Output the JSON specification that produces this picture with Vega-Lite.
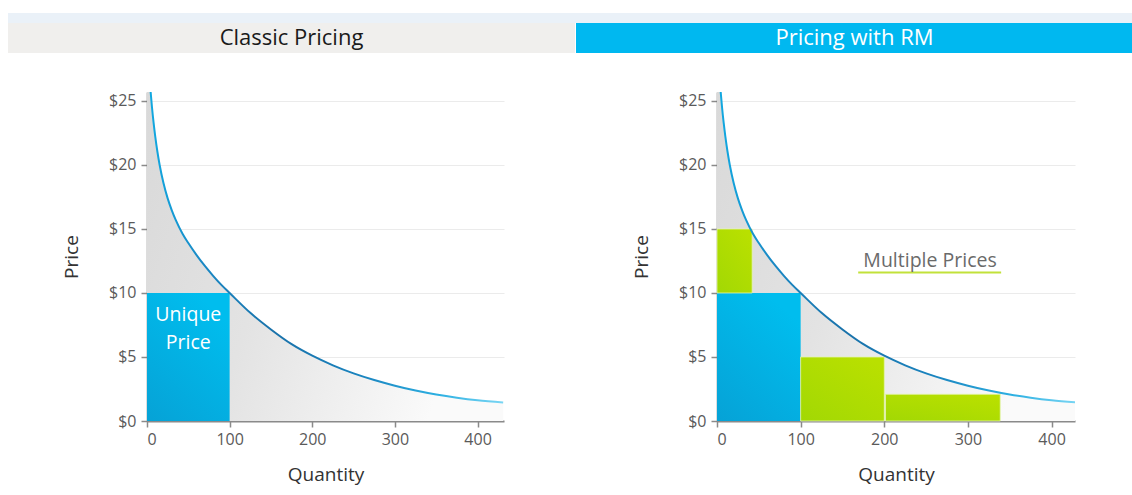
{
  "$schema": "https://vega.github.io/schema/vega-lite/v6.json",
  "background": "white",
  "padding": {"left": 8, "top": 12, "right": 0, "bottom": 10},
  "config": {
    "font": "Open Sans",
    "view": {"stroke": null},
    "axisX": {"grid": false, "domainColor": "#8a8a8a", "domainWidth": 2, "tickColor": "#8a8a8a", "tickWidth": 1.5, "tickSize": 6, "labelFontSize": 16, "labelColor": "#5a5a5a", "labelPadding": 4, "titleFontSize": 19, "titleColor": "#333333", "titleFontWeight": "normal", "titlePadding": 18},
    "axisY": {"grid": true, "gridColor": "#ebebeb", "domainColor": "#7a7a7a", "domainWidth": 1.5, "tickColor": "#8a8a8a", "tickWidth": 1.5, "tickSize": 6, "labelFontSize": 16, "labelColor": "#5a5a5a", "labelPadding": 5, "titleFontSize": 19, "titleColor": "#333333", "titleFontWeight": "normal", "titlePadding": 27}
  },
  "datasets": {
    "curve": [
      {"q": 0, "p": 25.7, "part": "edge"},
      {"q": 4.4, "p": 25.7, "part": "curve"},
      {"q": 6, "p": 24.53, "part": "curve"},
      {"q": 8, "p": 23.28, "part": "curve"},
      {"q": 10, "p": 22.21, "part": "curve"},
      {"q": 12.5, "p": 21.07, "part": "curve"},
      {"q": 15.3, "p": 20.0, "part": "curve"},
      {"q": 20, "p": 18.57, "part": "curve"},
      {"q": 25, "p": 17.39, "part": "curve"},
      {"q": 30, "p": 16.46, "part": "curve"},
      {"q": 35, "p": 15.67, "part": "curve"},
      {"q": 43, "p": 14.63, "part": "curve"},
      {"q": 50, "p": 13.9, "part": "curve"},
      {"q": 60, "p": 12.96, "part": "curve"},
      {"q": 70, "p": 12.11, "part": "curve"},
      {"q": 80, "p": 11.34, "part": "curve"},
      {"q": 90, "p": 10.63, "part": "curve"},
      {"q": 100, "p": 10.0, "part": "curve"},
      {"q": 125, "p": 8.45, "part": "curve"},
      {"q": 150, "p": 7.15, "part": "curve"},
      {"q": 175, "p": 6.0, "part": "curve"},
      {"q": 200, "p": 5.1, "part": "curve"},
      {"q": 225, "p": 4.35, "part": "curve"},
      {"q": 250, "p": 3.72, "part": "curve"},
      {"q": 275, "p": 3.2, "part": "curve"},
      {"q": 300, "p": 2.76, "part": "curve"},
      {"q": 325, "p": 2.38, "part": "curve"},
      {"q": 350, "p": 2.07, "part": "curve"},
      {"q": 375, "p": 1.82, "part": "curve"},
      {"q": 400, "p": 1.62, "part": "curve"},
      {"q": 431, "p": 1.45, "part": "curve"}
    ]
  },
  "spacing": 0,
  "vconcat": [
    {
      "width": 1125, "height": 10,
      "view": {"fill": "#eaf1f8", "stroke": null},
      "data": {"values": [{"t": ""}]},
      "mark": {"type": "text"},
      "encoding": {"text": {"field": "t"}}
    },
    {
      "spacing": 39,
      "vconcat": [
        {
          "spacing": 1,
          "hconcat": [
            {
              "width": 567, "height": 30,
              "view": {"fill": "#f0efed", "stroke": null},
              "data": {"values": [{"title": "Classic Pricing"}]},
              "mark": {"type": "text", "fontSize": 22, "color": "#1a1a1a", "baseline": "middle", "align": "center"},
              "encoding": {"text": {"field": "title"}}
            },
            {
              "width": 557, "height": 30,
              "view": {"fill": "#00b8f0", "stroke": null},
              "data": {"values": [{"title": "Pricing with RM"}]},
              "mark": {"type": "text", "fontSize": 22, "color": "#ffffff", "baseline": "middle", "align": "center"},
              "encoding": {"text": {"field": "title"}}
            }
          ]
        },
        {
          "spacing": 0,
          "hconcat": [
            {
              "width": 54, "height": 329,
              "data": {"values": [{"t": ""}]},
              "mark": {"type": "text"},
              "encoding": {"text": {"field": "t"}}
            },
            {
              "spacing": 128,
              "hconcat": [
                {
                  "width": 357, "height": 329,
                  "encoding": {
                    "x": {"field": "q", "type": "quantitative", "title": "Quantity", "scale": {"domain": [0, 432], "nice": false, "zero": true}, "axis": {"values": [0, 100, 200, 300, 400]}},
                    "y": {"field": "p", "type": "quantitative", "title": "Price", "scale": {"domain": [0, 25.7], "nice": false}, "axis": {"values": [0, 5, 10, 15, 20, 25], "labelExpr": "'$' + datum.value"}}
                  },
                  "layer": [
                    {
                      "data": {"name": "curve"},
                      "mark": {"type": "area", "interpolate": "monotone", "clip": true, "fill": {"gradient": "linear", "x1": 0, "y1": 0, "x2": 1, "y2": 0.3, "stops": [{"offset": 0, "color": "#d9d9d9"}, {"offset": 0.45, "color": "#e3e3e3"}, {"offset": 1, "color": "#fafafa"}]}},
                      "encoding": {}
                    },
                    {
                      "data": {"values": [{"q": 0, "q2": 100, "p": 0, "p2": 10}]},
                      "mark": {"type": "rect", "fill": {"gradient": "linear", "x1": 0.6, "y1": 0, "x2": 0, "y2": 1, "stops": [{"offset": 0, "color": "#00bdee"}, {"offset": 1, "color": "#06a2d6"}]}},
                      "encoding": {"x2": {"field": "q2"}, "y2": {"field": "p2"}}
                    },
                    {
                      "data": {"name": "curve"},
                      "transform": [{"filter": "datum.part == 'curve'"}],
                      "mark": {"type": "line", "interpolate": "monotone", "clip": true, "strokeWidth": 2, "stroke": {"gradient": "linear", "x1": 0, "y1": 0, "x2": 1, "y2": 0, "stops": [{"offset": 0, "color": "#12a8e0"}, {"offset": 0.15, "color": "#1a88c4"}, {"offset": 0.35, "color": "#1a72aa"}, {"offset": 0.6, "color": "#1a84bf"}, {"offset": 0.82, "color": "#2db0e2"}, {"offset": 1, "color": "#7ad6f4"}]}},
                      "encoding": {}
                    },
                    {
                      "data": {"values": [{"q": 50, "p": 8.25, "label": "Unique\nPrice"}]},
                      "mark": {"type": "text", "fontSize": 19.5, "color": "#ffffff", "lineBreak": "\n", "lineHeight": 28, "baseline": "middle", "align": "center"},
                      "encoding": {"text": {"field": "label"}}
                    }
                  ]
                },
                {
                  "width": 358, "height": 329,
                  "encoding": {
                    "x": {"field": "q", "type": "quantitative", "title": "Quantity", "scale": {"domain": [0, 428], "nice": false, "zero": true}, "axis": {"values": [0, 100, 200, 300, 400]}},
                    "y": {"field": "p", "type": "quantitative", "title": "Price", "scale": {"domain": [0, 25.7], "nice": false}, "axis": {"values": [0, 5, 10, 15, 20, 25], "labelExpr": "'$' + datum.value"}}
                  },
                  "layer": [
                    {
                      "data": {"name": "curve"},
                      "mark": {"type": "area", "interpolate": "monotone", "clip": true, "fill": {"gradient": "linear", "x1": 0, "y1": 0, "x2": 1, "y2": 0.3, "stops": [{"offset": 0, "color": "#d9d9d9"}, {"offset": 0.45, "color": "#e3e3e3"}, {"offset": 1, "color": "#fafafa"}]}},
                      "encoding": {}
                    },
                    {
                      "data": {"values": [{"q": 0, "q2": 100, "p": 0, "p2": 10}]},
                      "mark": {"type": "rect", "fill": {"gradient": "linear", "x1": 0.6, "y1": 0, "x2": 0, "y2": 1, "stops": [{"offset": 0, "color": "#00bdee"}, {"offset": 1, "color": "#06a2d6"}]}},
                      "encoding": {"x2": {"field": "q2"}, "y2": {"field": "p2"}}
                    },
                    {
                      "data": {"values": [
                        {"q": 0, "q2": 42, "p": 10, "p2": 15},
                        {"q": 100, "q2": 200, "p": 0, "p2": 5},
                        {"q": 201.5, "q2": 338.6, "p": 0, "p2": 2.09}
                      ]},
                      "mark": {"type": "rect", "stroke": "#e4f4b0", "strokeWidth": 0.8, "fill": {"gradient": "linear", "x1": 0.8, "y1": 0, "x2": 0, "y2": 1, "stops": [{"offset": 0, "color": "#b9e000"}, {"offset": 1, "color": "#a2d804"}]}},
                      "encoding": {"x2": {"field": "q2"}, "y2": {"field": "p2"}}
                    },
                    {
                      "data": {"name": "curve"},
                      "transform": [{"filter": "datum.part == 'curve'"}],
                      "mark": {"type": "line", "interpolate": "monotone", "clip": true, "strokeWidth": 2, "stroke": {"gradient": "linear", "x1": 0, "y1": 0, "x2": 1, "y2": 0, "stops": [{"offset": 0, "color": "#12a8e0"}, {"offset": 0.15, "color": "#1a88c4"}, {"offset": 0.35, "color": "#1a72aa"}, {"offset": 0.6, "color": "#1a84bf"}, {"offset": 0.82, "color": "#2db0e2"}, {"offset": 1, "color": "#7ad6f4"}]}},
                      "encoding": {}
                    },
                    {
                      "data": {"values": [{"q": 168.8, "q2": 339.7, "p": 11.6}]},
                      "mark": {"type": "rule", "color": "#c2e23a", "strokeWidth": 2},
                      "encoding": {"x2": {"field": "q2"}}
                    },
                    {
                      "data": {"values": [{"q": 254.7, "p": 12.49, "label": "Multiple Prices"}]},
                      "mark": {"type": "text", "fontSize": 19.5, "color": "#6a6a6a", "baseline": "middle", "align": "center"},
                      "encoding": {"text": {"field": "label"}}
                    }
                  ]
                }
              ]
            }
          ]
        }
      ]
    }
  ]
}
